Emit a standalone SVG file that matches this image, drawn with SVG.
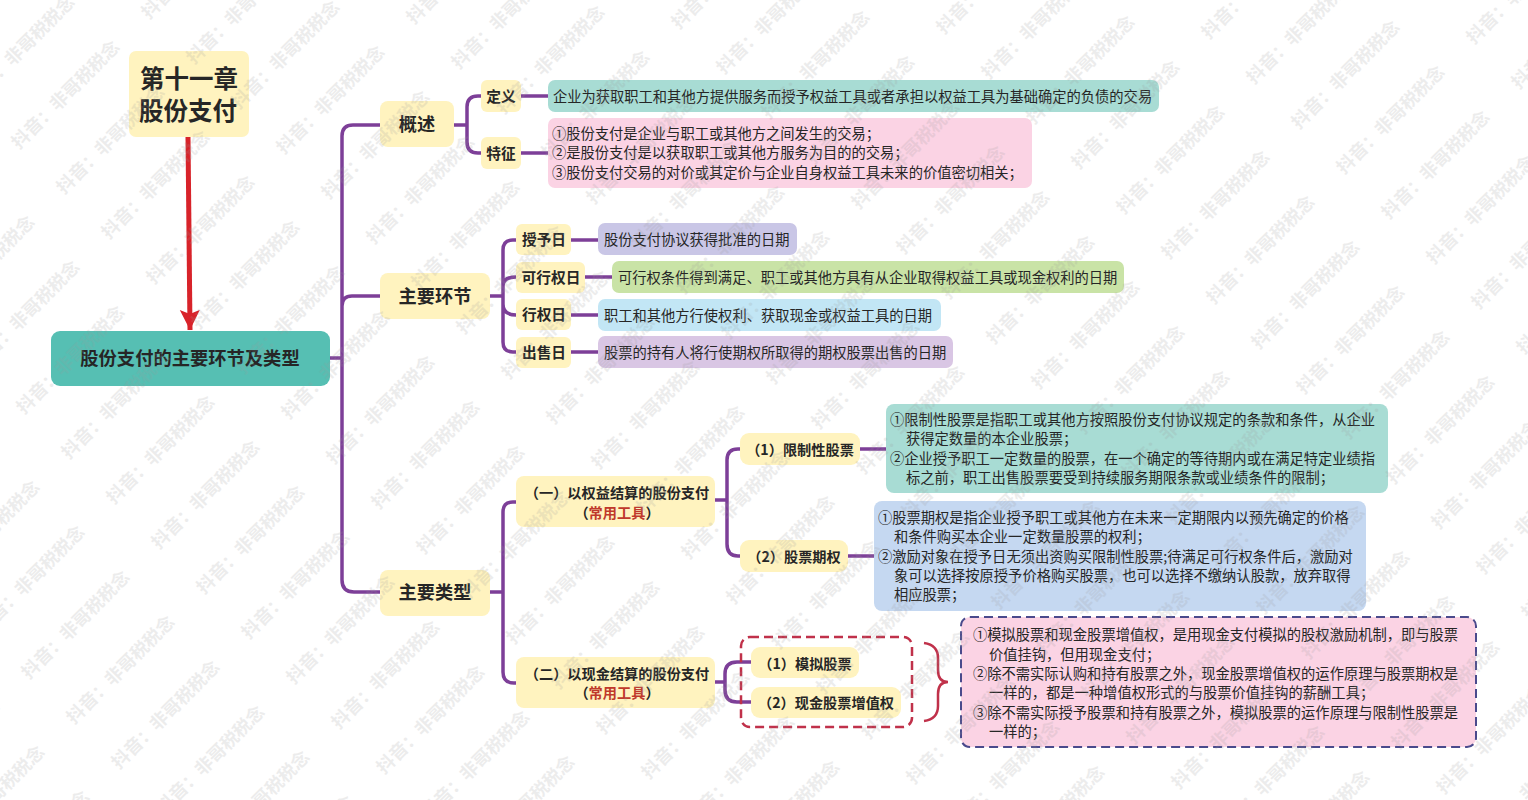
<svg xmlns="http://www.w3.org/2000/svg" width="1528" height="800" viewBox="0 0 1528 800">
<style>
text{font-family:"Noto Sans CJK SC","Noto Sans",sans-serif;fill:#262626}
.b{font-weight:700}
.n{font-weight:700;font-size:14.7px;text-anchor:middle}
.m{font-weight:700;font-size:14.2px;text-anchor:middle}
.l{font-weight:700;font-size:18.2px;text-anchor:middle}
.t{font-size:14.28px}
.c{fill:none;stroke:#7d3f98;stroke-width:3.5}
.y{fill:#fff3bf}
.wm{font-size:18px;font-weight:700;fill:#9a9a9a;opacity:.18}
</style>
<defs>
<marker id="ah" markerUnits="userSpaceOnUse" markerWidth="22" markerHeight="22" refX="20" refY="11" orient="auto"><path d="M0 1L20 11L0 21L4 11Z" fill="#d8232a"/></marker>
<text id="w" class="wm" transform="rotate(-45)">抖音：非哥税税念</text>
<g id="row"><use href="#w" transform="translate(-116 15)"/><use href="#w" transform="translate(-71 60)"/><use href="#w" transform="translate(-26 105)"/><use href="#w" transform="translate(19 150)"/><use href="#w" transform="translate(64 195)"/><use href="#w" transform="translate(109 240)"/><use href="#w" transform="translate(154 285)"/><use href="#w" transform="translate(199 330)"/><use href="#w" transform="translate(244 375)"/><use href="#w" transform="translate(289 420)"/><use href="#w" transform="translate(334 465)"/><use href="#w" transform="translate(379 510)"/><use href="#w" transform="translate(424 555)"/><use href="#w" transform="translate(469 600)"/><use href="#w" transform="translate(514 645)"/><use href="#w" transform="translate(559 690)"/><use href="#w" transform="translate(604 735)"/><use href="#w" transform="translate(649 780)"/><use href="#w" transform="translate(694 825)"/><use href="#w" transform="translate(739 870)"/><use href="#w" transform="translate(784 915)"/><use href="#w" transform="translate(829 960)"/><use href="#w" transform="translate(874 1005)"/><use href="#w" transform="translate(919 1050)"/><use href="#w" transform="translate(964 1095)"/><use href="#w" transform="translate(1009 1140)"/><use href="#w" transform="translate(1054 1185)"/><use href="#w" transform="translate(1099 1230)"/><use href="#w" transform="translate(1144 1275)"/></g>
</defs>
<rect width="1528" height="800" fill="#ffffff"/>
<g id="connectors">
<path d="M188 137L190 330" fill="none" stroke="#d8232a" stroke-width="5" marker-end="url(#ah)"/>
<path class="c" d="M329 358H342M342 136Q342 125 353 125H380M342 580V136M342 306Q342 296 352 296H380M342 580Q342 592 354 592H380"/>
<path class="c" d="M454 125H467M467 107Q467 96 478 96H481M467 142V107M467 142Q467 153 478 153H481M521 96H548M521 153H548"/>
<path class="c" d="M490 296H503M503 250Q503 240 513 240H516M503 342V250M503 286Q503 277 516 277M503 304Q503 315 516 315M503 342Q503 352 513 352H516M571 240H598M585 277H612M571 315H598M571 352H598"/>
<path class="c" d="M490 592H503M503 512Q503 502 513 502H516M503 672V512M503 672Q503 683 514 683H516M715 500H727M727 460Q727 449 738 449H740M727 544V460M727 544Q727 556 738 556H740M860 449H886M848 556H874"/>
<path class="c" d="M715 682H725M725 674Q725 662 737 662H751M725 690V674M725 690Q725 702 737 702H751"/>
</g>
<g id="n-title"><rect class="y" x="129" y="51" width="120" height="86" rx="7"/><text class="b" font-size="24.5" x="189" y="88" text-anchor="middle">第十一章</text><text class="b" font-size="24.5" x="188" y="120" text-anchor="middle">股份支付</text></g>
<g id="n-root"><rect x="51" y="331" width="279" height="55" rx="9" fill="#56bfb3"/><text class="b" font-size="18.3" x="190" y="365" text-anchor="middle">股份支付的主要环节及类型</text></g>
<g id="n-gs"><rect class="y" x="380" y="101" width="74" height="46" rx="8"/><text class="l" x="417" y="131">概述</text></g>
<g id="n-hj"><rect class="y" x="380" y="273" width="110" height="46" rx="8"/><text class="l" x="435" y="303">主要环节</text></g>
<g id="n-lx"><rect class="y" x="380" y="570" width="110" height="46" rx="8"/><text class="l" x="435" y="599">主要类型</text></g>
<g id="n-dy"><rect class="y" x="481" y="80" width="40" height="32" rx="6"/><text class="n" x="501" y="102">定义</text></g>
<g id="n-tz"><rect class="y" x="481" y="137" width="40" height="32" rx="6"/><text class="n" x="501" y="159">特征</text></g>
<g id="n-dy-t"><rect x="548" y="80" width="611" height="32" rx="7" fill="#a8dcd4"/><text class="t" x="553" y="102">企业为获取职工和其他方提供服务而授予权益工具或者承担以权益工具为基础确定的负债的交易</text></g>
<g id="n-tz-t"><rect x="548" y="118" width="484" height="70" rx="7" fill="#fbd3e4"/><text class="t" x="552" y="139">①股份支付是企业与职工或其他方之间发生的交易；</text><text class="t" x="552" y="158">②是股份支付是以获取职工或其他方服务为目的的交易；</text><text class="t" x="552" y="178">③股份支付交易的对价或其定价与企业自身权益工具未来的价值密切相关；</text></g>
<g id="n-sy"><rect class="y" x="516" y="224" width="55" height="31" rx="6"/><text class="n" x="544" y="245">授予日</text></g>
<g id="n-kx"><rect class="y" x="516" y="262" width="69" height="31" rx="6"/><text class="n" x="551" y="283">可行权日</text></g>
<g id="n-xq"><rect class="y" x="516" y="299" width="55" height="31" rx="6"/><text class="n" x="544" y="320">行权日</text></g>
<g id="n-cs"><rect class="y" x="516" y="337" width="55" height="31" rx="6"/><text class="n" x="544" y="358">出售日</text></g>
<g id="n-sy-t"><rect x="598" y="223" width="199" height="32" rx="7" fill="#c9c6e6"/><text class="t" x="604" y="245">股份支付协议获得批准的日期</text></g>
<g id="n-kx-t"><rect x="612" y="261" width="512" height="32" rx="7" fill="#c9e3a6"/><text class="t" x="618" y="283">可行权条件得到满足、职工或其他方具有从企业取得权益工具或现金权利的日期</text></g>
<g id="n-xq-t"><rect x="598" y="299" width="343" height="32" rx="7" fill="#c2e6f5"/><text class="t" x="604" y="321">职工和其他方行使权利、获取现金或权益工具的日期</text></g>
<g id="n-cs-t"><rect x="598" y="336" width="355" height="32" rx="7" fill="#d9c6e4"/><text class="t" x="604" y="358">股票的持有人将行使期权所取得的期权股票出售的日期</text></g>
<g id="n-qy"><rect class="y" x="516" y="476" width="199" height="51" rx="8"/><text class="m" x="617" y="498">（一）以权益结算的股份支付</text><text class="m" x="617" y="518">（<tspan fill="#c0392b">常用工具</tspan>）</text></g>
<g id="n-xj"><rect class="y" x="516" y="657" width="199" height="51" rx="8"/><text class="m" x="617" y="679">（二）以现金结算的股份支付</text><text class="m" x="617" y="698">（<tspan fill="#c0392b">常用工具</tspan>）</text></g>
<g id="n-xz"><rect class="y" x="740" y="433" width="120" height="32" rx="9"/><text class="m" x="800" y="455">（1）限制性股票</text></g>
<g id="n-qq"><rect class="y" x="740" y="540" width="108" height="32" rx="9"/><text class="m" x="794" y="562">（2）股票期权</text></g>
<g id="n-mn"><rect class="y" x="751" y="647" width="108" height="31" rx="9"/><text class="m" x="805" y="669">（1）模拟股票</text></g>
<g id="n-zz"><rect class="y" x="751" y="687" width="150" height="31" rx="9"/><text class="m" x="826" y="708">（2）现金股票增值权</text></g>
<g id="n-xz-t"><rect x="886" y="404" width="502" height="89" rx="8" fill="#a8dcd4"/><text class="t" x="890" y="425">①限制性股票是指职工或其他方按照股份支付协议规定的条款和条件，从企业</text><text class="t" x="906" y="444">获得定数量的本企业股票；</text><text class="t" x="890" y="464">②企业授予职工一定数量的股票，在一个确定的等待期内或在满足特定业绩指</text><text class="t" x="906" y="483">标之前，职工出售股票要受到持续服务期限条款或业绩条件的限制；</text></g>
<g id="n-qq-t"><rect x="874" y="501" width="492" height="110" rx="8" fill="#c5d8f1"/><text class="t" x="878" y="523">①股票期权是指企业授予职工或其他方在未来一定期限内以预先确定的价格</text><text class="t" x="894" y="542">和条件购买本企业一定数量股票的权利；</text><text class="t" x="878" y="562">②激励对象在授予日无须出资购买限制性股票;待满足可行权条件后，激励对</text><text class="t" x="894" y="581">象可以选择按原授予价格购买股票，也可以选择不缴纳认股款，放弃取得</text><text class="t" x="894" y="600">相应股票；</text></g>
<g id="n-group"><rect x="741" y="637" width="171" height="90" rx="9" fill="none" stroke="#c0314a" stroke-width="2.5" stroke-dasharray="9 5"/><path d="M924 643Q938 645 938 658V670Q938 682 948 682Q938 682 938 694V706Q938 719 924 721" fill="none" stroke="#c0314a" stroke-width="2.5"/></g>
<g id="n-mn-t"><rect x="961" y="617" width="515" height="130" rx="9" fill="#fbd3e4" stroke="#4a4a8c" stroke-width="2" stroke-dasharray="9 5"/><text class="t" x="973" y="640">①模拟股票和现金股票增值权，是用现金支付模拟的股权激励机制，即与股票</text><text class="t" x="989" y="660">价值挂钩，但用现金支付；</text><text class="t" x="973" y="679">②除不需实际认购和持有股票之外，现金股票增值权的运作原理与股票期权是</text><text class="t" x="989" y="698">一样的，都是一种增值权形式的与股票价值挂钩的薪酬工具；</text><text class="t" x="973" y="718">③除不需实际授予股票和持有股票之外，模拟股票的运作原理与限制性股票是</text><text class="t" x="989" y="737">一样的；</text></g>
<g id="watermark"><use href="#row" transform="translate(-520 520)"/><use href="#row" transform="translate(-390 390)"/><use href="#row" transform="translate(-260 260)"/><use href="#row" transform="translate(-130 130)"/><use href="#row"/><use href="#row" transform="translate(130 -130)"/><use href="#row" transform="translate(260 -260)"/><use href="#row" transform="translate(390 -390)"/><use href="#row" transform="translate(520 -520)"/><use href="#row" transform="translate(650 -650)"/><use href="#row" transform="translate(780 -780)"/></g>
</svg>
